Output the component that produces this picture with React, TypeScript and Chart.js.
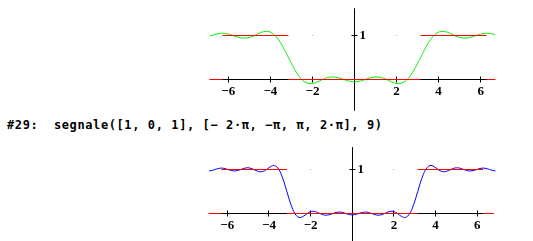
import React, { useEffect, useRef } from 'react';
import { Chart, registerables } from 'chart.js';

Chart.register(...registerables);

// x positions (multiples of π/16)
const xValues = [
  -6.872, -6.676, -6.480, -6.283, -6.087, -5.890, -5.694, -5.498, -5.301, -5.105,
  -4.909, -4.712, -4.516, -4.320, -4.123, -3.927, -3.731, -3.534, -3.338, -3.142,
  -2.945, -2.749, -2.553, -2.356, -2.160, -1.963, -1.767, -1.571, -1.374, -1.178,
  -0.982, -0.785, -0.589, -0.393, -0.196, 0, 0.196, 0.393, 0.589, 0.785,
  0.982, 1.178, 1.374, 1.571, 1.767, 1.963, 2.160, 2.356, 2.553, 2.749,
  2.945, 3.142, 3.338, 3.534, 3.731, 3.927, 4.123, 4.320, 4.516, 4.712,
  4.909, 5.105, 5.301, 5.498, 5.694, 5.890, 6.087, 6.283, 6.480, 6.676, 6.872,
];

// green curve (upper plot)
const greenValues = [
  0.987, 1.019, 1.043, 1.052, 1.043, 1.019, 0.987, 0.958, 0.942, 0.946,
  0.970, 1.010, 1.054, 1.087, 1.092, 1.057, 0.976, 0.848, 0.684, 0.5,
  0.316, 0.152, 0.024, -0.057, -0.092, -0.087, -0.054, -0.010, 0.030, 0.054,
  0.058, 0.042, 0.013, -0.019, -0.043, -0.052, -0.043, -0.019, 0.013, 0.042,
  0.058, 0.054, 0.030, -0.010, -0.054, -0.087, -0.092, -0.057, 0.024, 0.152,
  0.316, 0.5, 0.684, 0.848, 0.976, 1.057, 1.092, 1.087, 1.054, 1.010,
  0.970, 0.946, 0.942, 0.958, 0.987, 1.019, 1.043, 1.052, 1.043, 1.019,
];

// blue curve (lower plot)
const blueValues = [
  0.968, 0.987, 1.017, 1.032, 1.017, 0.987, 0.968, 0.977, 1.009, 1.036,
  1.032, 0.996, 0.957, 0.952, 0.998, 1.065, 1.089, 1.007, 0.796, 0.5,
  0.204, -0.007, -0.089, -0.065, 0.002, 0.048, 0.043, 0.004, -0.032, -0.036,
  -0.009, 0.023, 0.032, 0.013, -0.017, -0.032, -0.017, 0.013, 0.032, 0.023,
  -0.009, -0.036, -0.032, 0.004, 0.043, 0.048, 0.002, -0.065, -0.089, -0.007,
  0.204, 0.5, 0.796, 1.007, 1.089, 1.065, 0.998, 0.952, 0.957, 0.996,
  1.032, 1.036, 1.009, 0.977, 0.968, 0.987, 1.017, 1.032, 1.017, 0.987, 0.968,
];

// step signal: breakpoints and levels
const signalInnerBreaks = [-6.283, -3.142, 3.142, 6.283];
const signalLevels = [0, 1, 0, 1, 0];

const xTickValues = [-6, -4, -2, 2, 4, 6];
const yTickValues = [1];
const dotXValues = [-2, 2];

const commandText = '#29:  segnale([1, 0, 1], [\u2212 2\u00b7\u03c0, \u2212\u03c0, \u03c0, 2\u00b7\u03c0], 9)';

type PlotCfg = {
  curveX: number[];
  curveY: number[];
  color: string;
  xMin: number;
  xMax: number;
  yMin: number;
  yMax: number;
  dataLeft: number;
  dataRight: number;
  yAxisTop: number;
  yAxisBottom: number;
};

function buildSignal(left: number, right: number) {
  const breaks = [left, ...signalInnerBreaks, right];
  const pts: { x: number; y: number | null }[] = [];
  signalLevels.forEach((lv, i) => {
    pts.push({ x: breaks[i], y: lv });
    pts.push({ x: breaks[i + 1], y: lv });
    pts.push({ x: breaks[i + 1], y: null });
  });
  return pts;
}

function fmt(v: number) {
  return v < 0 ? '\u2212' + Math.abs(v) : String(v);
}

function makeAxesPlugin(cfg: PlotCfg) {
  return {
    id: 'mathAxes',
    beforeDatasetsDraw(chart: any) {
      const { ctx } = chart;
      const xs = chart.scales.x;
      const ys = chart.scales.y;
      const x0 = Math.floor(xs.getPixelForValue(0)) + 0.5;
      const y0 = Math.floor(ys.getPixelForValue(0)) + 0.5;
      ctx.save();
      ctx.strokeStyle = '#000';
      ctx.lineWidth = 1;
      ctx.beginPath();
      ctx.moveTo(xs.getPixelForValue(-6.3), y0);
      ctx.lineTo(xs.getPixelForValue(6.3), y0);
      ctx.moveTo(x0, ys.getPixelForValue(cfg.yAxisTop));
      ctx.lineTo(x0, ys.getPixelForValue(cfg.yAxisBottom));
      xTickValues.forEach((t) => {
        const px = Math.floor(xs.getPixelForValue(t)) + 0.5;
        ctx.moveTo(px, y0 - 3);
        ctx.lineTo(px, y0 + 3);
      });
      yTickValues.forEach((t) => {
        const py = Math.floor(ys.getPixelForValue(t)) + 0.5;
        ctx.moveTo(x0 - 3, py);
        ctx.lineTo(x0 + 3, py);
      });
      ctx.stroke();

      ctx.fillStyle = '#000';
      ctx.font = 'bold 13px "Liberation Serif"';
      ctx.textAlign = 'center';
      ctx.textBaseline = 'middle';
      xTickValues.forEach((t) => {
        ctx.fillText(fmt(t), xs.getPixelForValue(t), y0 + 12);
      });
      ctx.textAlign = 'left';
      yTickValues.forEach((t) => {
        ctx.fillText(fmt(t), x0 + 5, ys.getPixelForValue(t) + 0.5);
      });

      ctx.fillStyle = '#b0b0b0';
      dotXValues.forEach((t) => {
        ctx.fillRect(Math.floor(xs.getPixelForValue(t)), Math.floor(ys.getPixelForValue(1)), 1, 1);
      });
      ctx.restore();
    },
  };
}

function Plot({ cfg, style }: { cfg: PlotCfg; style: React.CSSProperties }) {
  const ref = useRef<HTMLCanvasElement | null>(null);
  useEffect(() => {
    if (!ref.current) return;
    const curve = cfg.curveY.map((y, i) => ({ x: cfg.curveX[i], y }));
    const chart = new Chart(ref.current, {
      type: 'line',
      data: {
        datasets: [
          {
            data: buildSignal(cfg.dataLeft, cfg.dataRight),
            borderColor: '#ff0000',
            borderWidth: 1,
            pointRadius: 0,
            spanGaps: false,
            tension: 0,
          },
          {
            data: curve,
            borderColor: cfg.color,
            borderWidth: 1,
            pointRadius: 0,
            tension: 0.4,
          },
        ],
      },
      options: {
        animation: false,
        responsive: false,
        maintainAspectRatio: false,
        devicePixelRatio: 1,
        layout: { padding: 0 },
        events: [],
        scales: {
          x: { type: 'linear', min: cfg.xMin, max: cfg.xMax, display: false },
          y: { type: 'linear', min: cfg.yMin, max: cfg.yMax, display: false },
        },
        plugins: { legend: { display: false }, tooltip: { enabled: false } },
      },
      plugins: [makeAxesPlugin(cfg)],
    } as any);
    return () => chart.destroy();
  }, [cfg]);
  const w = style.width as number;
  const h = style.height as number;
  return <canvas ref={ref} width={w} height={h} style={{ position: 'absolute', ...style }} />;
}

const topCfg: PlotCfg = {
  curveX: xValues.slice(0, 70),
  curveY: greenValues,
  color: '#00ee00',
  xMin: -7.347,
  xMax: 8.488,
  yMin: -0.8068,
  yMax: 1.8068,
  dataLeft: -6.9,
  dataRight: 6.7,
  yAxisTop: 1.62,
  yAxisBottom: -0.71,
};

const bottomCfg: PlotCfg = {
  curveX: xValues,
  curveY: blueValues,
  color: '#0000ff',
  xMin: -7.311,
  xMax: 8.675,
  yMin: -0.625,
  yMax: 1.6705,
  dataLeft: -6.9,
  dataRight: 6.8,
  yAxisTop: 1.51,
  yAxisBottom: -0.7,
};

export default function App() {
  return (
    <div style={{ position: 'fixed', left: 0, top: 0, width: 533, height: 241, background: '#fff', overflow: 'hidden' }}>
      <Plot cfg={topCfg} style={{ left: 200, top: 0, width: 333, height: 115 }} />
      <div
        style={{
          position: 'absolute',
          left: 7,
          top: 119,
          font: 'bold 12px "DejaVu Sans Mono"',
          letterSpacing: '0.6px',
          lineHeight: '12px',
          whiteSpace: 'pre',
          color: '#000',
        }}
      >
        {commandText}
      </div>
      <Plot cfg={bottomCfg} style={{ left: 200, top: 140, width: 333, height: 101 }} />
    </div>
  );
}
